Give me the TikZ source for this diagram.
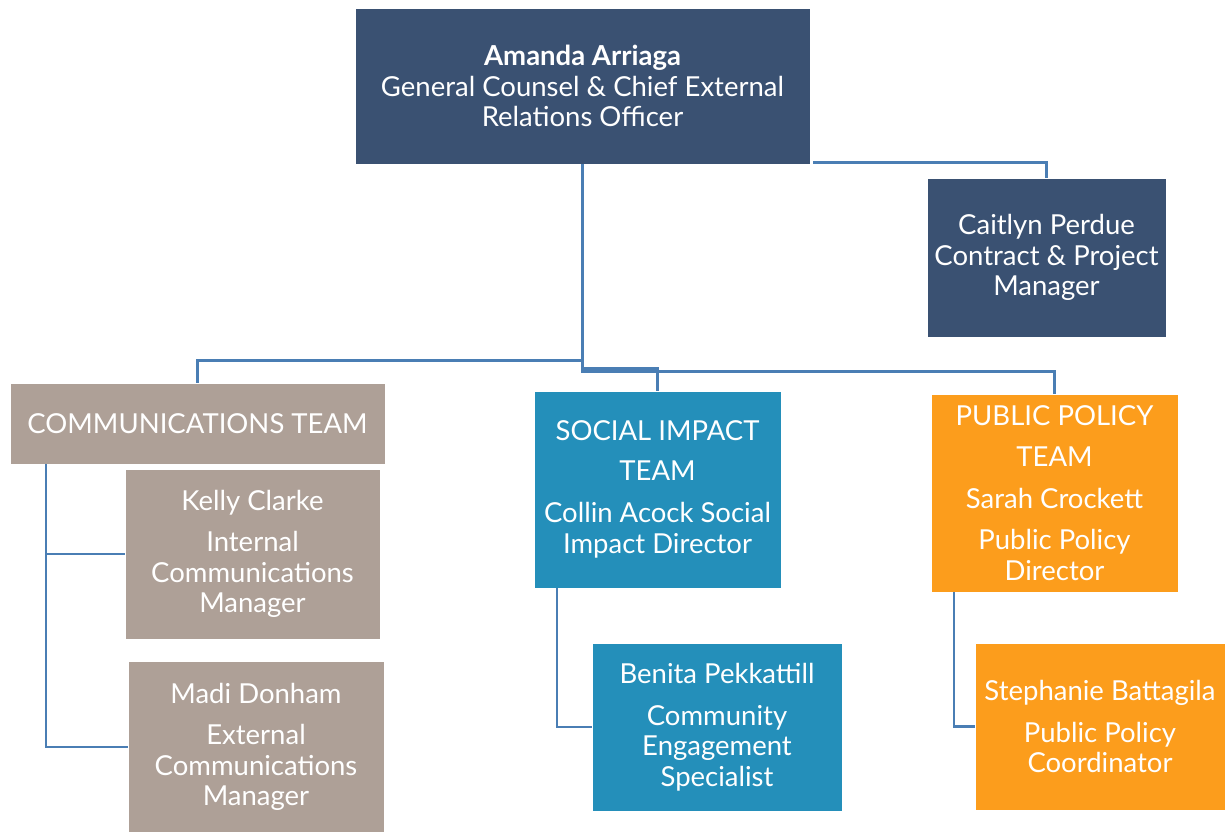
\documentclass[tikz,border=0pt]{standalone}
\usepackage{fontspec}
\setmainfont{Lato}
\usetikzlibrary{positioning}

\definecolor{slate}{HTML}{3A5172}
\definecolor{taupe}{HTML}{AEA097}
\definecolor{teal}{HTML}{248FBA}
\definecolor{amber}{HTML}{FC9D1C}
\definecolor{wire}{HTML}{4A7EB4}

\begin{document}
\begin{tikzpicture}[
            x = 1pt, y = -1pt, % pixel grid of the chart
            link/.style = {draw = wire, line width = 2.6pt},
            box/.style = {rectangle, draw = white, thin, inner sep = 0pt,
                text = white, align = center,
                font = \fontsize{27.5}{30.5}\selectfont}
        ]

        \tikzstyle{lead}=[box, fill = slate]
        \tikzstyle{comms}=[box, fill = taupe]
        \tikzstyle{impact}=[box, fill = teal]
        \tikzstyle{policy}=[box, fill = amber]

        \useasboundingbox (0,0) rectangle (1226,831);

        \node[lead, minimum width = 455pt, minimum height = 156pt] (amanda) at (582.5,86)
            {\textbf{Amanda Arriaga}\\General Counsel \& Chief External\\Relations Officer};
        \node[lead, minimum width = 239pt, minimum height = 159pt] (caitlyn) at (1046.5,257.5)
            {Caitlyn Perdue\\Contract \& Project\\Manager};

        \node[comms, minimum width = 375pt, minimum height = 81pt] (commteam) at (197.5,423.5)
            {COMMUNICATIONS TEAM};
        \node[comms, minimum width = 255pt, minimum height = 170pt] (kelly) at (252.5,554)
            {Kelly Clarke\\[11pt]Internal\\Communications\\Manager};
        \node[comms, minimum width = 256pt, minimum height = 172pt] (madi) at (256,747)
            {Madi Donham\\[11pt]External\\Communications\\Manager};

        \node[impact, minimum width = 247pt, minimum height = 197pt] (impactteam) at (657.5,489.5)
            {SOCIAL IMPACT\\[9pt]TEAM\\[12pt]Collin Acock Social\\Impact Director};
        \node[impact, minimum width = 250pt, minimum height = 168pt] (benita) at (717,727)
            {Benita Pekkattill\\[11pt]Community\\Engagement\\Specialist};

        \node[policy, minimum width = 247pt, minimum height = 198pt] (policyteam) at (1054.5,493)
            {PUBLIC POLICY\\[11pt]TEAM\\[11pt]Sarah Crockett\\[11pt]Public Policy\\Director};
        \node[policy, minimum width = 250pt, minimum height = 167pt] (stephanie) at (1100,726.5)
            {Stephanie Battagila\\[11pt]Public Policy\\Coordinator};

        \draw[link] ([xshift = 3pt, yshift = 2pt]amanda.south east) -| (caitlyn.north);
        \draw[link] (amanda.south) -- ++(0,196) -| (commteam.north);
        \draw[link] (amanda.south) -- ++(0,204) -| (impactteam.north);
        \draw[link] (amanda.south) -- ++(0,207) -| (policyteam.north);

        \draw[link] ([xshift = 36pt]commteam.south west) |- (kelly.west);
        \draw[link] ([xshift = 36pt]commteam.south west) |- (madi.west);
        \draw[link] ([xshift = 23pt]impactteam.south west) |- (benita.west);
        \draw[link] ([xshift = 23pt]policyteam.south west) |- (stephanie.west);

  \end{tikzpicture}
\end{document}
